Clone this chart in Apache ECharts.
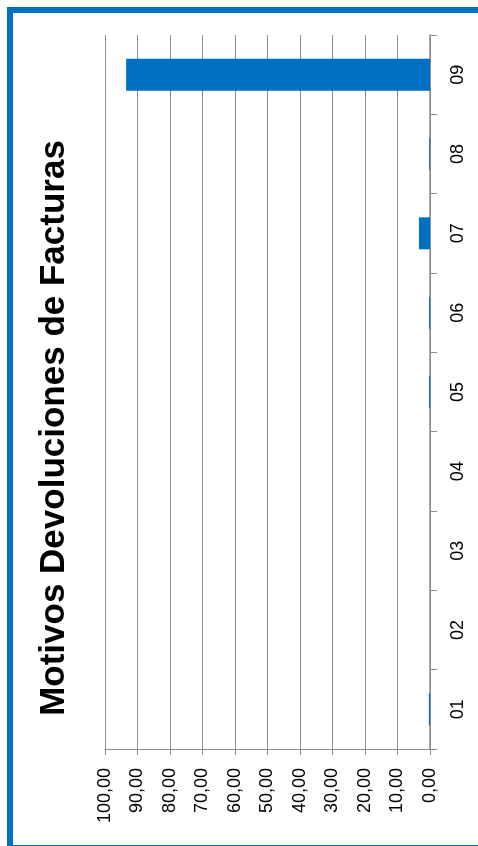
<!DOCTYPE html>
<html>
<head>
<meta charset="utf-8">
<script src="https://cdn.jsdelivr.net/npm/echarts@6/dist/echarts.min.js"></script>
<style>
  html, body { margin: 0; padding: 0; background: #fff; }
  #chart { width: 478px; height: 846px; }
</style>
</head>
<body>
<div id="chart"></div>
<script>
// datos
var categorias = ["01", "02", "03", "04", "05", "06", "07", "08", "09"];
var valores = [0.35, 0, 0, 0, 0.3, 0.3, 3.4, 0.25, 93.5];
var titulo = "Motivos Devoluciones de Facturas";

var gris = "#8c8c8c";
var azul = "#0070C0";

var myChart = echarts.init(document.getElementById("chart"));

myChart.setOption({
  animation: false,
  grid: {
    left: 105,
    right: 48,
    top: 35,
    bottom: 97
  },
  xAxis: {
    type: "value",
    position: "bottom",
    inverse: true,
    min: 0,
    max: 100,
    interval: 10,
    axisLine: { show: true, lineStyle: { color: gris, width: 1 } },
    axisTick: { show: true, length: 6, lineStyle: { color: gris } },
    splitLine: { show: true, lineStyle: { color: gris, width: 1 } },
    axisLabel: {
      rotate: 90,
      margin: 19,
      color: "#000",
      fontFamily: "Liberation Sans",
      fontSize: 18,
      formatter: function (v) {
        return v.toFixed(2).replace(".", ",");
      }
    }
  },
  yAxis: {
    type: "category",
    position: "right",
    data: categorias,
    axisLine: { show: true, lineStyle: { color: gris, width: 1.5 } },
    axisTick: { show: true, length: 7, lineStyle: { color: gris } },
    splitLine: { show: false },
    axisLabel: {
      rotate: 90,
      margin: 19,
      color: "#000",
      fontFamily: "Liberation Sans",
      fontSize: 18
    }
  },
  series: [
    {
      type: "bar",
      data: valores,
      barWidth: 32,
      itemStyle: { color: azul }
    }
  ],
  graphic: [
    {
      type: "rect",
      silent: true,
      shape: { x: 10, y: 10, width: 480, height: 838 },
      style: { fill: "none", stroke: azul, lineWidth: 6 }
    },
    {
      type: "text",
      silent: true,
      x: 54,
      y: 428,
      rotation: Math.PI / 2,
      style: {
        text: titulo,
        fill: "#000",
        font: "bold 35px 'Liberation Sans'",
        textAlign: "center",
        textVerticalAlign: "middle"
      }
    }
  ]
});
</script>
</body>
</html>
